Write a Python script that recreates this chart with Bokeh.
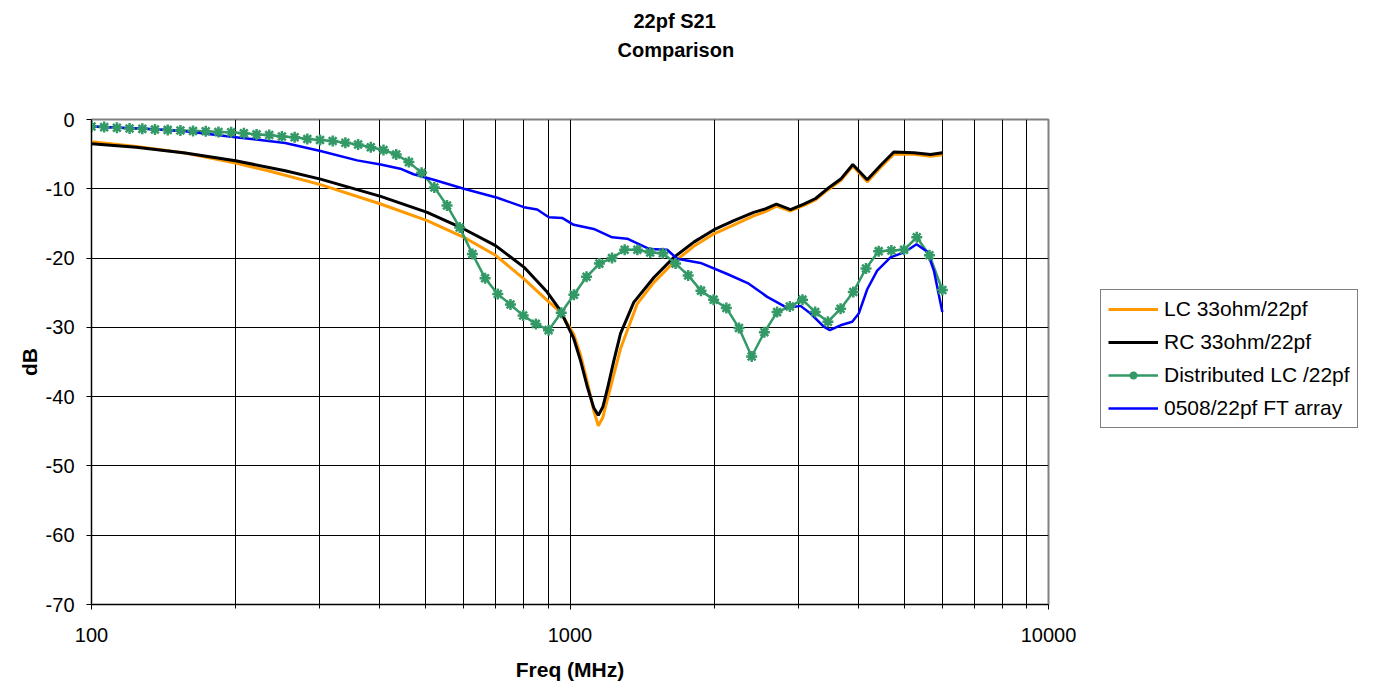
from bokeh.plotting import figure
from bokeh.models import (Legend, LegendItem, Title, FixedTicker, Range1d,
                          PrintfTickFormatter)
from bokeh.embed import file_html
from bokeh.resources import INLINE

# ---------------- data ----------------
title_line1 = "22pf S21"
title_line2 = "Comparison"
x_label = "Freq (MHz)"
y_label = "dB"

x_major_ticks = [100, 1000, 10000]
x_minor_ticks = [200, 300, 400, 500, 600, 700, 800, 900,
                 2000, 3000, 4000, 5000, 6000, 7000, 8000, 9000]
y_ticks = [-70, -60, -50, -40, -30, -20, -10, 0]

lc_label = "LC 33ohm/22pf"
lc_freq = [100, 124, 157, 200, 234, 301, 402, 503, 600, 699,
           801, 896, 955, 1018, 1052, 1086, 1121, 1146, 1171, 1196,
           1235, 1275, 1382, 1497, 1648, 1814, 2000, 2200, 2420, 2560,
           2700, 2890, 3080, 3260, 3450, 3680, 3900, 4180, 4460, 4750,
           5230, 5670, 6000]
lc_db = [-3.2, -3.9, -4.85, -6.3, -7.4, -9.4, -12.2, -14.6, -17.0, -19.6,
         -23.0, -26.1, -27.8, -31.0, -34.0, -37.8, -42.0, -44.2, -43.0, -40.5,
         -36.8, -33.1, -26.6, -23.5, -20.6, -18.3, -16.5, -15.2, -13.9, -13.3,
         -12.5, -13.2, -12.4, -11.6, -10.2, -8.8, -6.7, -9.0, -6.9, -5.0,
         -5.0, -5.3, -5.1]

rc_label = "RC 33ohm/22pf"
rc_freq = [100, 124, 157, 200, 254, 301, 402, 503, 600, 699,
           801, 896, 955, 1018, 1052, 1086, 1121, 1146, 1171, 1196,
           1235, 1275, 1359, 1497, 1648, 1814, 2000, 2200, 2420, 2560,
           2700, 2890, 3080, 3260, 3450, 3680, 3900, 4180, 4460, 4750,
           5230, 5670, 6000]
rc_db = [-3.5, -4.0, -4.85, -5.95, -7.4, -8.6, -11.1, -13.4, -15.8, -18.2,
         -21.3, -24.9, -27.6, -31.6, -34.8, -38.5, -41.6, -42.7, -41.5, -39.0,
         -34.8, -30.9, -26.4, -22.8, -19.9, -17.7, -15.9, -14.6, -13.4, -12.9,
         -12.2, -13.0, -12.2, -11.4, -10.0, -8.6, -6.5, -8.7, -6.6, -4.7,
         -4.8, -5.05, -4.8]

dist_label = "Distributed LC /22pf"
dist_freq = [100, 106.3, 113.0, 120.1, 127.7, 135.7, 144.3, 153.4, 163.0, 173.3,
             184.2, 195.8, 208.2, 221.3, 235.2, 250.0, 265.8, 282.5, 300.3, 319.2,
             339.3, 360.7, 383.4, 407.6, 433.3, 460.6, 489.6, 520.5, 553.3, 588.1,
             625.2, 664.6, 706.4, 750.9, 798.2, 848.5, 902.0, 958.8, 1019, 1083,
             1152, 1224, 1301, 1383, 1471, 1563, 1662, 1766, 1878, 1996,
             2122, 2255, 2397, 2548, 2709, 2880, 3061, 3254, 3459, 3677,
             3909, 4155, 4417, 4695, 4991, 5305, 5639, 6000]
dist_db = [-1.0, -1.1, -1.2, -1.3, -1.35, -1.45, -1.5, -1.6, -1.65, -1.7,
           -1.8, -1.85, -2.0, -2.15, -2.25, -2.45, -2.55, -2.8, -2.95, -3.1,
           -3.35, -3.6, -4.0, -4.4, -5.05, -6.15, -7.7, -9.8, -12.4, -15.6,
           -19.4, -22.9, -25.2, -26.7, -28.3, -29.5, -30.4, -27.9, -25.3, -22.7,
           -20.8, -20.0, -18.8, -18.8, -19.2, -19.3, -20.8, -22.5, -24.7, -26.0,
           -27.2, -30.1, -34.2, -30.7, -27.8, -27.0, -26.0, -27.8, -29.2, -27.3,
           -24.9, -21.5, -19.0, -18.9, -18.8, -17.0, -19.6, -24.6]

ft_label = "0508/22pf FT array"
ft_freq = [100, 130, 157, 200, 254, 301, 359, 402, 442, 471,
           519, 600, 705, 801, 854, 903, 963, 1018, 1121, 1225,
           1317, 1466, 1596, 1675, 1874, 2131, 2364, 2583, 2844, 3032,
           3182, 3391, 3491, 3676, 3889, 4013, 4180, 4385, 4675, 5020,
           5300, 5580, 5760, 6000]
ft_db = [-1.0, -1.35, -1.7, -2.55, -3.4, -4.55, -5.9, -6.5, -7.1, -7.9,
         -8.7, -10.0, -11.3, -12.65, -13.0, -14.1, -14.2, -15.2, -15.8, -17.0,
         -17.2, -18.7, -18.8, -20.1, -20.7, -22.3, -23.7, -25.6, -27.2, -26.9,
         -28.0, -29.9, -30.4, -29.7, -29.2, -28.0, -24.5, -21.8, -19.9, -19.1,
         -18.0, -19.1, -21.8, -27.8]

# ---------------- styles ----------------
FONT = "Liberation Sans"
ORANGE = "#FF9900"
BLACK = "#000000"
GREEN = "#339966"
BLUE = "#0000FF"

p = figure(title=None, x_axis_type="log",
           x_range=Range1d(100, 10000), y_range=Range1d(-70, 0),
           frame_width=957, frame_height=485,
           min_border_left=91, min_border_right=325,
           min_border_top=119, min_border_bottom=80,
           output_backend="svg", toolbar_location=None,
           background_fill_color="white", border_fill_color="white")

# axes
p.xaxis.ticker = FixedTicker(ticks=x_major_ticks, minor_ticks=x_minor_ticks)
p.yaxis.ticker = FixedTicker(ticks=y_ticks)
p.xaxis.formatter = PrintfTickFormatter(format="%d")
p.yaxis.formatter = PrintfTickFormatter(format="%d")
for ax in (p.xaxis, p.yaxis):
    ax.major_label_text_font = FONT
    ax.major_label_text_font_size = "20px"
    ax.major_label_text_color = "black"
    ax.axis_label_text_font = FONT
    ax.axis_label_text_font_size = "21px"
    ax.axis_label_text_font_style = "bold"
    ax.axis_label_text_color = "black"
    ax.axis_line_color = "black"
    ax.major_tick_line_color = "black"
    ax.major_tick_in = 0
    ax.major_tick_out = 5
p.xaxis.minor_tick_line_color = "black"
p.xaxis.minor_tick_in = 0
p.xaxis.minor_tick_out = 4
p.yaxis.minor_tick_line_color = None
p.xaxis.axis_label = x_label
p.yaxis.axis_label = y_label
p.xaxis.major_label_standoff = 18
p.xaxis.axis_label_standoff = 13
p.yaxis.major_label_standoff = 12
p.yaxis.axis_label_standoff = 2

# grid
p.xgrid.grid_line_color = "black"
p.xgrid.grid_line_width = 1
p.xgrid.minor_grid_line_color = "black"
p.xgrid.minor_grid_line_width = 1
p.ygrid.grid_line_color = "black"
p.ygrid.grid_line_width = 1
p.outline_line_color = "#808080"
p.outline_line_width = 2

# series
r_lc = p.line(lc_freq, lc_db, line_color=ORANGE, line_width=3)
r_rc = p.line(rc_freq, rc_db, line_color=BLACK, line_width=3)
r_dist_line = p.line(dist_freq, dist_db, line_color=GREEN, line_width=2.5)
r_ft = p.line(ft_freq, ft_db, line_color=BLUE, line_width=2.5)
r_dist_mark = p.scatter(dist_freq, dist_db, marker="asterisk", size=11,
                        line_color=GREEN, line_width=2.5)

legend = Legend(items=[
    LegendItem(label=lc_label, renderers=[r_lc]),
    LegendItem(label=rc_label, renderers=[r_rc]),
    LegendItem(label=dist_label, renderers=[r_dist_line, r_dist_mark]),
    LegendItem(label=ft_label, renderers=[r_ft]),
], location=(52, 176))
legend.border_line_color = "black"
legend.border_line_width = 1
legend.background_fill_color = "white"
legend.background_fill_alpha = 1
legend.label_text_font = FONT
legend.label_text_font_size = "21px"
legend.label_text_color = "black"
legend.glyph_width = 50
legend.glyph_height = 20
legend.label_height = 20
legend.label_standoff = 6
legend.spacing = 9
legend.padding = 7
legend.margin = 0
p.add_layout(legend, "right")

# titles (first added sits nearest the plot frame)
spacer = Title(text=" ", align="left", text_font=FONT, text_font_size="20px",
               standoff=34)
t2 = Title(text=title_line2, align="left", offset=526, text_font=FONT,
           text_font_size="20px", text_font_style="bold", text_color="black",
           standoff=2)
t1 = Title(text=title_line1, align="left", offset=542, text_font=FONT,
           text_font_size="20px", text_font_style="bold", text_color="black",
           standoff=8)
p.add_layout(spacer, "above")
p.add_layout(t2, "above")
p.add_layout(t1, "above")

open("out.html", "w").write(file_html(p, INLINE))
